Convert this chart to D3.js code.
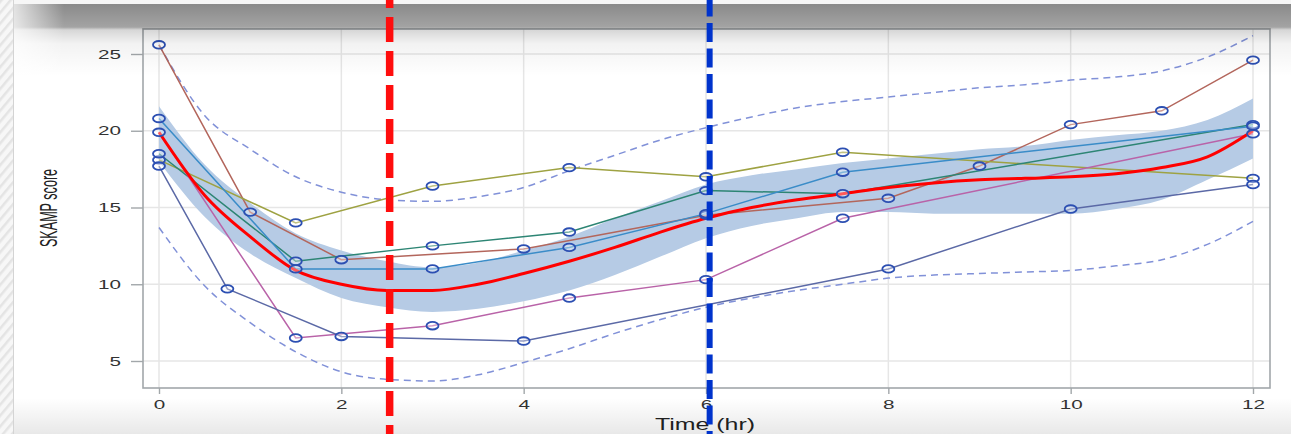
<!DOCTYPE html>
<html>
<head>
<meta charset="utf-8">
<script src="https://cdn.jsdelivr.net/npm/d3@7"></script>
<style>
html, body { margin: 0; padding: 0; background: #fff; overflow: hidden; }
text { font-family: "Liberation Sans", Arial, sans-serif; }
</style>
</head>
<body>
<svg id="chart" width="1291" height="434"></svg>
<script>
// tick labels
var xTicks = [0, 2, 4, 6, 8, 10, 12];
var yTicks = [5, 10, 15, 20, 25];

// time grid for the summary curves (hr)
var gridT = [0, 0.5, 1, 1.5, 2, 2.5, 3, 3.5, 4, 4.5, 5, 5.5, 6, 6.5, 7, 7.5, 8, 8.5, 9, 9.5, 10, 10.5, 11, 11.5, 12];
// median prediction (red)
var medianV = [19.9, 15.8, 13.1, 10.9, 10.0, 9.6, 9.6, 10.0, 10.7, 11.5, 12.4, 13.4, 14.3, 15.0, 15.5, 15.9, 16.3, 16.6, 16.8, 16.9, 17.0, 17.2, 17.6, 18.3, 20.0];
// confidence band around the median
var bandLo = [18.0, 14.4, 12.0, 10.4, 9.1, 8.5, 8.2, 8.4, 8.9, 9.6, 10.6, 11.8, 13.0, 13.8, 14.3, 14.7, 14.7, 14.6, 14.6, 14.6, 14.6, 14.9, 15.5, 16.8, 18.2];
var bandHi = [21.6, 17.8, 15.3, 13.3, 12.2, 11.5, 11.1, 11.4, 12.2, 13.1, 14.3, 15.4, 16.5, 17.1, 17.5, 17.9, 18.2, 18.5, 18.8, 19.0, 19.4, 19.7, 20.0, 20.7, 22.1];
// 5th / 95th percentile (dashed)
var piLo = [13.7, 9.9, 7.5, 5.6, 4.3, 3.8, 3.7, 4.1, 4.9, 5.8, 6.8, 7.7, 8.5, 9.1, 9.6, 10.0, 10.4, 10.6, 10.7, 10.8, 10.9, 11.2, 11.6, 12.6, 14.1];
var piHi = [25.6, 21.0, 18.8, 17.0, 16.0, 15.5, 15.4, 15.7, 16.3, 17.4, 18.4, 19.4, 20.2, 20.9, 21.5, 21.9, 22.2, 22.5, 22.8, 23.0, 23.3, 23.5, 23.9, 24.8, 26.2];

// observed subjects [time, score]
var subjBrown = [[0, 25.6], [1, 14.7], [2, 11.6], [4, 12.3], [6, 14.5], [8, 15.6], [9, 17.7], [10, 20.4], [11, 21.3], [12, 24.6]];
var subjBlue = [[0, 20.8], [1.5, 11.0], [3, 11.0], [4.5, 12.4], [6, 14.6], [7.5, 17.3], [12, 20.3]];
var subjTeal = [[0, 18.5], [1.5, 11.5], [3, 12.5], [4.5, 13.4], [6, 16.1], [7.5, 15.9], [12, 20.4]];
var subjOlive = [[0, 18.1], [1.5, 14.0], [3, 16.4], [4.5, 17.6], [6, 17.0], [7.5, 18.6], [12, 16.9]];
var subjMagenta = [[0, 19.9], [1.5, 6.5], [3, 7.3], [4.5, 9.1], [6, 10.3], [7.5, 14.3], [12, 19.8]];
var subjSlate = [[0, 17.7], [0.75, 9.7], [2, 6.6], [4, 6.3], [8, 11.0], [10, 14.9], [12, 16.5]];

var subjects = [subjBrown, subjOlive, subjTeal, subjBlue, subjMagenta, subjSlate];
var subjColors = ['#b3665c', '#9ea242', '#2d8574', '#3a8cc8', '#b963a8', '#5b69a6'];

// reference times (vertical dashed lines)
var refTimes = [2.53, 6.04];
var refColors = ['#ff0d0d', '#0033cc'];

var W = 1291, H = 434;
var frame = {left: 143, top: 29, right: 1270, bottom: 388};

var svg = d3.select('#chart');
var defs = svg.append('defs');

var x = d3.scaleLinear().domain([0, 12]).range([159, 1253]);
var y = d3.scaleLinear().domain([5, 25]).range([361, 54]);

//page background: hatched strip at the left, shadows at top and bottom
var hatch = defs.append('pattern').attr('id', 'hatch').attr('patternUnits', 'userSpaceOnUse')
    .attr('width', 7).attr('height', 7).attr('patternTransform', 'rotate(40)');
hatch.append('rect').attr('width', 7).attr('height', 7).attr('fill', '#f7f7f7');
hatch.append('rect').attr('width', 2.5).attr('height', 7).attr('fill', '#e4e4e4');

function vGrad(id, stops) {
    var g = defs.append('linearGradient').attr('id', id).attr('x1', 0).attr('y1', 0).attr('x2', 0).attr('y2', 1);
    stops.forEach(function (s) {
        g.append('stop').attr('offset', s[0]).attr('stop-color', s[1]).attr('stop-opacity', s[2]);
    });
}
vGrad('topShade', [[0, '#000', 0.46], [0.32, '#000', 0.36], [0.36, '#000', 0.16], [0.55, '#000', 0.05], [1, '#000', 0]]);
vGrad('bottomShade', [[0, '#000', 0], [1, '#000', 0.09]]);
var lf = defs.append('linearGradient').attr('id', 'leftFade').attr('x1', 0).attr('y1', 0).attr('x2', 1).attr('y2', 0);
lf.append('stop').attr('offset', 0).attr('stop-color', '#fff').attr('stop-opacity', 0.75);
lf.append('stop').attr('offset', 1).attr('stop-color', '#fff').attr('stop-opacity', 0);

svg.append('rect').attr('width', W).attr('height', H).attr('fill', '#fff');
svg.append('rect').attr('x', 0).attr('y', 0).attr('width', 13).attr('height', H).attr('fill', 'url(#hatch)');
svg.append('line').attr('x1', 13.5).attr('x2', 13.5).attr('y1', 0).attr('y2', H).attr('stroke', '#d4d4d4').attr('stroke-width', 1);

var plot = svg.append('g');

// grid
plot.selectAll('.gx').data(xTicks).enter().append('line')
    .attr('x1', function (d) { return x(d); }).attr('x2', function (d) { return x(d); })
    .attr('y1', frame.top).attr('y2', frame.bottom)
    .attr('stroke', '#e6e6e6').attr('stroke-width', 1.5);
plot.selectAll('.gy').data(yTicks).enter().append('line')
    .attr('x1', frame.left).attr('x2', frame.right)
    .attr('y1', function (d) { return y(d); }).attr('y2', function (d) { return y(d); })
    .attr('stroke', '#e6e6e6').attr('stroke-width', 1.5);

// confidence band
var area = d3.area()
    .x(function (d, i) { return x(gridT[i]); })
    .y0(function (d, i) { return y(bandLo[i]); })
    .y1(function (d, i) { return y(bandHi[i]); })
    .curve(d3.curveMonotoneX);
plot.append('path').datum(gridT).attr('d', area).attr('fill', '#b6cbe5');

// percentile dashed lines
var curve = d3.line()
    .x(function (d, i) { return x(gridT[i]); })
    .y(function (d) { return y(d); })
    .curve(d3.curveMonotoneX);
[piLo, piHi].forEach(function (arr) {
    plot.append('path').datum(arr).attr('d', curve)
        .attr('fill', 'none').attr('stroke', '#8191d8').attr('stroke-width', 1.5)
        .attr('stroke-dasharray', '7,5');
});

// subject lines
var subjLine = d3.line()
    .x(function (d) { return x(d[0]); })
    .y(function (d) { return y(d[1]); });
subjects.forEach(function (s, i) {
    plot.append('path').datum(s).attr('d', subjLine)
        .attr('fill', 'none').attr('stroke', subjColors[i]).attr('stroke-width', 1.5);
});

// median
plot.append('path').datum(medianV).attr('d', curve)
    .attr('fill', 'none').attr('stroke', '#ff0000').attr('stroke-width', 3);

// observation markers
subjects.forEach(function (s) {
    plot.selectAll(null).data(s).enter().append('ellipse')
        .attr('cx', function (d) { return x(d[0]); })
        .attr('cy', function (d) { return y(d[1]); })
        .attr('rx', 6).attr('ry', 3.8)
        .attr('fill', 'rgba(255,255,255,0.35)')
        .attr('stroke', '#2c4fb2').attr('stroke-width', 1.8);
});

// frame
plot.append('rect')
    .attr('x', frame.left).attr('y', frame.top)
    .attr('width', frame.right - frame.left).attr('height', frame.bottom - frame.top)
    .attr('fill', 'none').attr('stroke', '#a2a7aa').attr('stroke-width', 1.6);

// axes
function stretch(sel) {
    sel.selectAll('text')
        .attr('textLength', function (d) { return String(d).length * 11.5; })
        .attr('lengthAdjust', 'spacingAndGlyphs');
}
var yAxis = plot.append('g').attr('transform', 'translate(' + frame.left + ',0)')
    .call(d3.axisLeft(y).tickValues(yTicks).tickSize(12).tickPadding(10));
var xAxis = plot.append('g').attr('transform', 'translate(0,' + frame.bottom + ')')
    .call(d3.axisBottom(x).tickValues(xTicks).tickSize(6).tickPadding(6));
[xAxis, yAxis].forEach(function (ax) {
    ax.select('.domain').remove();
    ax.selectAll('line').attr('stroke', '#a2a7aa').attr('stroke-width', 1.4);
    ax.selectAll('text').attr('fill', '#333').style('font-size', '13px')
        .style('font-family', '"Liberation Sans", Arial, sans-serif');
    stretch(ax);
});

svg.append('text')
    .attr('x', 705).attr('y', 430)
    .attr('text-anchor', 'middle')
    .attr('textLength', 100).attr('lengthAdjust', 'spacingAndGlyphs')
    .style('font-size', '16px').attr('fill', '#222')
    .text('Time (hr)');

svg.append('text')
    .attr('transform', 'translate(48,208) rotate(-90) scale(0.9,1.75)')
    .attr('text-anchor', 'middle').attr('dy', '0.36em')
    .style('font-size', '14px').attr('fill', '#222')
    .text('SKAMP score');

// shadows over the slide
svg.append('rect').attr('x', 14).attr('y', 0).attr('width', W - 14).attr('height', 4).attr('fill', '#f6f6f6');
svg.append('rect').attr('x', 14).attr('y', 4).attr('width', W - 14).attr('height', 72).attr('fill', 'url(#topShade)');
svg.append('rect').attr('x', 14).attr('y', 4).attr('width', 50).attr('height', 72).attr('fill', 'url(#leftFade)');
svg.append('rect').attr('x', 14).attr('y', 398).attr('width', W - 14).attr('height', H - 398).attr('fill', 'url(#bottomShade)');

// reference times
refTimes.forEach(function (t, i) {
    svg.append('line')
        .attr('x1', x(t)).attr('x2', x(t)).attr('y1', 0).attr('y2', H)
        .attr('stroke', refColors[i])
        .attr('stroke-width', i === 0 ? 7.5 : 6)
        .attr('stroke-dasharray', i === 0 ? '25,9' : '19,6.5')
        .attr('stroke-dashoffset', i === 0 ? 17 : 2.5);
});
</script>
</body>
</html>
